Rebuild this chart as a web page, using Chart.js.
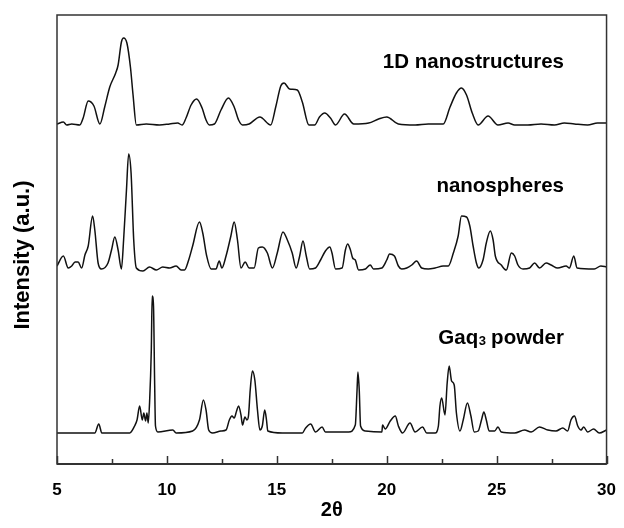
<!DOCTYPE html>
<html lang="en">
<head>
<meta charset="UTF-8">
<title>XRD patterns of Gaq3</title>
<script src="https://cdn.jsdelivr.net/npm/chart.js"></script>
<style>
    body { margin: 0; background: #fff; }
    .wrap { position: relative; width: 624px; height: 528px; }
</style>
</head>
<body>
<div class="wrap"><canvas id="xrd" width="624" height="528"></canvas></div>
<script>
// sample names and the vertical offset each pattern is stacked at
const sampleNames = ['1D nanostructures', 'nanospheres', 'Gaq3 powder'];
const baselines = [339, 195, 31];
const xTicks = [5, 10, 15, 20, 25, 30];

// [2theta, intensity above baseline]
const oneD = [[5.0,1],[5.29,3],[5.44,0],[5.67,1],[6.04,0],[6.19,7],[6.42,24],[6.68,19],[6.95,1],[7.17,18],[7.40,38],[7.67,52],[7.78,60],[7.93,83],[8.03,87],[8.18,82],[8.34,58],[8.46,30],[8.61,0],[9.06,1],[9.66,0],[10.12,1],[10.49,2],[10.69,0],[10.87,7],[11.10,20],[11.35,26],[11.60,17],[11.78,5],[11.93,0],[12.16,1],[12.46,15],[12.80,27],[13.06,18],[13.26,5],[13.44,0],[13.74,1],[14.23,8],[14.72,0],[14.95,18],[15.18,39],[15.33,42],[15.58,36],[15.93,35],[16.16,23],[16.46,0],[16.72,0],[16.94,8],[17.18,12],[17.44,7],[17.67,0],[18.08,11],[18.50,1],[19.18,2],[19.63,6],[20.00,8],[20.53,1],[21.29,0],[21.89,1],[22.57,1],[22.88,18],[23.17,32],[23.40,37],[23.63,30],[23.89,12],[24.16,0],[24.61,9],[25.06,0],[25.52,2],[25.82,0],[26.42,0],[27.02,1],[27.63,0],[28.08,2],[28.54,1],[29.14,0],[29.59,2],[30.0,2]];

const spheres = [[5.0,3],[5.29,13],[5.51,1],[5.67,3],[5.82,7],[5.96,7],[6.12,1],[6.27,14],[6.42,23],[6.62,53],[6.72,39],[6.87,6],[7.02,0],[7.32,6],[7.48,19],[7.63,32],[7.78,19],[7.93,0],[8.03,29],[8.16,79],[8.26,115],[8.37,96],[8.49,29],[8.61,1],[8.91,-2],[9.21,2],[9.52,-1],[9.81,2],[10.12,1],[10.42,3],[10.65,-1],[10.80,-1],[10.99,9],[11.17,23],[11.48,47],[11.63,36],[11.81,13],[12.01,0],[12.23,0],[12.38,8],[12.50,1],[12.69,13],[12.91,33],[13.06,47],[13.21,29],[13.37,1],[13.56,7],[13.74,1],[13.97,1],[14.16,21],[14.34,22],[14.57,16],[14.80,1],[15.02,16],[15.28,37],[15.48,29],[15.70,16],[15.88,1],[16.04,13],[16.19,28],[16.34,13],[16.49,0],[16.76,1],[16.99,9],[17.21,18],[17.41,22],[17.51,16],[17.67,0],[17.97,1],[18.12,19],[18.22,25],[18.35,19],[18.45,11],[18.57,9],[18.72,-1],[19.03,0],[19.25,4],[19.40,0],[19.78,1],[20.00,9],[20.13,15],[20.35,13],[20.53,3],[20.68,0],[20.91,1],[21.14,4],[21.36,8],[21.59,1],[21.89,0],[22.20,1],[22.57,3],[22.80,3],[23.03,16],[23.25,33],[23.40,53],[23.63,52],[23.78,43],[23.93,23],[24.08,6],[24.19,1],[24.38,9],[24.53,26],[24.71,38],[24.84,29],[24.94,13],[25.21,4],[25.44,-1],[25.67,16],[25.82,13],[25.97,4],[26.20,0],[26.50,1],[26.73,6],[26.95,1],[27.25,6],[27.48,4],[27.78,1],[28.16,3],[28.31,1],[28.51,13],[28.66,1],[29.44,0],[29.74,3],[30.0,2]];

const powder = [[5.0,0],[6.04,0],[6.72,0],[6.90,9],[7.04,0],[8.31,0],[8.53,7],[8.64,13],[8.76,27],[8.88,13],[8.95,20],[9.03,12],[9.09,20],[9.15,10],[9.21,30],[9.29,83],[9.33,137],[9.39,127],[9.44,53],[9.48,7],[9.59,1],[10.27,3],[10.42,0],[11.17,2],[11.48,13],[11.66,33],[11.78,23],[11.90,3],[12.08,0],[12.46,2],[12.69,3],[12.84,13],[12.96,17],[13.06,15],[13.17,22],[13.26,27],[13.37,18],[13.44,8],[13.55,16],[13.64,13],[13.71,17],[13.79,43],[13.89,62],[14.00,53],[14.12,23],[14.23,3],[14.34,7],[14.45,23],[14.53,13],[14.59,2],[15.25,0],[16.16,0],[16.31,5],[16.54,9],[16.76,1],[17.06,6],[17.21,1],[18.27,1],[18.57,8],[18.65,43],[18.69,61],[18.75,43],[18.81,7],[19.03,2],[19.78,1],[19.81,8],[19.93,4],[20.16,12],[20.39,17],[20.53,7],[20.72,0],[21.06,10],[21.29,1],[21.63,6],[21.82,0],[22.20,0],[22.35,7],[22.42,27],[22.50,35],[22.65,18],[22.75,50],[22.84,67],[22.95,52],[23.07,48],[23.17,20],[23.33,2],[23.48,13],[23.67,30],[23.83,17],[23.98,1],[24.16,2],[24.31,13],[24.42,21],[24.53,13],[24.66,2],[24.91,2],[25.06,6],[25.21,1],[25.82,0],[26.27,3],[26.57,1],[26.95,6],[27.33,3],[27.70,2],[28.01,5],[28.23,2],[28.38,13],[28.54,17],[28.69,7],[28.84,3],[28.96,6],[29.14,1],[29.41,4],[29.67,0],[30.0,3]];

const patterns = [oneD, spheres, powder];
const FONT = '"Liberation Sans", Arial, sans-serif';

// frame, inward ticks, sample labels and y title
const decor = {
    id: 'decor',
    afterDraw(chart) {
        const { ctx, chartArea: a, scales: { x } } = chart;
        ctx.save();
        ctx.strokeStyle = '#333';
        ctx.lineWidth = 1.5;
        ctx.strokeRect(a.left, a.top, a.right - a.left, a.bottom - a.top);
        ctx.lineWidth = 2;
        ctx.beginPath();
        ctx.moveTo(a.left, a.bottom);
        ctx.lineTo(a.right, a.bottom);
        ctx.stroke();
        ctx.lineWidth = 1.5;
        ctx.beginPath();
        for (let v = 5; v <= 30; v += 2.5) {
            const px = Math.round(x.getPixelForValue(v)) + 0.5;
            const len = v % 5 === 0 ? 8 : 5;
            ctx.moveTo(px, a.bottom);
            ctx.lineTo(px, a.bottom - len);
        }
        ctx.stroke();

        ctx.fillStyle = '#000';
        ctx.textBaseline = 'middle';
        const rightX = 564;
        const ys = [62, 186, 338];
        sampleNames.forEach((name, i) => {
            const m = name.match(/^(Gaq)(3)( .*)$/);
            if (m) {
                ctx.font = 'bold 20.5px ' + FONT;
                const w1 = ctx.measureText(m[1]).width;
                const w3 = ctx.measureText(m[3]).width;
                ctx.font = 'bold 13px ' + FONT;
                const w2 = ctx.measureText(m[2]).width;
                const sx = rightX - w1 - w2 - w3;
                ctx.textAlign = 'left';
                ctx.font = 'bold 20.5px ' + FONT;
                ctx.fillText(m[1], sx, ys[i]);
                ctx.font = 'bold 13px ' + FONT;
                ctx.fillText(m[2], sx + w1 + 0.5, ys[i] + 3);
                ctx.font = 'bold 20.5px ' + FONT;
                ctx.fillText(m[3], sx + w1 + w2, ys[i]);
            } else {
                ctx.textAlign = 'right';
                ctx.font = 'bold 20.5px ' + FONT;
                ctx.fillText(name, rightX, ys[i]);
            }
        });

        ctx.translate(23, 255);
        ctx.rotate(-Math.PI / 2);
        ctx.textAlign = 'center';
        ctx.font = 'bold 22px ' + FONT;
        ctx.fillText('Intensity (a.u.)', 0, 0);
        ctx.restore();
    }
};

const ctx = document.getElementById('xrd').getContext('2d');
new Chart(ctx, {
    type: 'line',
    data: {
        datasets: patterns.map((pts, i) => ({
            label: sampleNames[i],
            data: pts.map(p => ({ x: p[0], y: p[1] + baselines[i] })),
            borderColor: '#111',
            borderWidth: 1.5,
            pointRadius: 0,
            fill: false,
            cubicInterpolationMode: 'monotone'
        }))
    },
    options: {
        responsive: false,
        animation: false,
        devicePixelRatio: 1,
        layout: { padding: { left: 57, right: 15, top: 15, bottom: 0 } },
        plugins: { legend: { display: false }, tooltip: { enabled: false } },
        scales: {
            x: {
                type: 'linear',
                min: 5,
                max: 30,
                afterFit: s => { s.height = 64; },
                afterBuildTicks: s => { s.ticks = xTicks.map(v => ({ value: v })); },
                grid: { display: false },
                border: { display: false },
                ticks: {
                    padding: 8,
                    color: '#000',
                    font: { family: FONT, size: 17, weight: 'bold' },
                    maxRotation: 0
                },
                title: {
                    display: true,
                    text: '2θ',
                    color: '#000',
                    font: { family: FONT, size: 20, weight: 'bold' },
                    padding: { top: 0, bottom: 6 }
                }
            },
            y: {
                display: false,
                min: 0,
                max: 449
            }
        }
    },
    plugins: [decor]
});
</script>
</body>
</html>
